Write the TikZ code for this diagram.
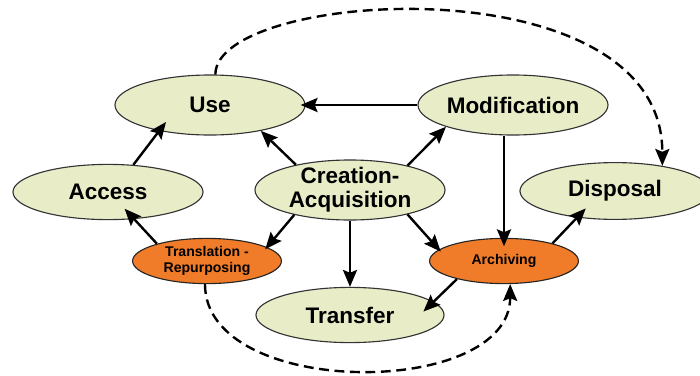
\documentclass[tikz,border=0pt]{standalone}
\usepackage{fontspec}
\setmainfont{Liberation Sans}
\usepackage{tikz}
\usetikzlibrary{shapes.geometric, arrows.meta, positioning}
\definecolor{stagegreen}{RGB}{232,237,200}
\definecolor{stageorange}{RGB}{240,123,40}

\begin{document}
\begin{tikzpicture}[
        x=0.025cm, y=-0.025cm,
        stage/.style={ellipse, draw=black!80, line width=0.8pt, fill=stagegreen, inner sep=0pt, minimum width=4.75cm, minimum height=1.5cm, align=center, font=\bfseries\fontsize{16}{17}\selectfont},
        substage/.style={ellipse, draw=black!85, line width=0.8pt, fill=stageorange, inner sep=0pt, minimum width=3.72cm, minimum height=1.13cm, align=center, font=\bfseries\fontsize{10}{11}\selectfont},
        flow/.style={-{Stealth[length=12pt, width=10pt, inset=2pt]}, line width=1.7pt},
        dashflow/.style={-{Stealth[length=12pt, width=10pt, inset=2pt]}, line width=1.7pt, dash pattern=on 7pt off 4pt}
    ]
        \useasboundingbox (0,0) rectangle (700,376);

        \node[stage] (use) at (210,105) {Use};
        \node[stage] (modification) at (513,105) {Modification};
        \node[stage, minimum height=1.38cm] (access) at (108,192) {Access};
        \node[stage, inner ysep=-1pt] (creation) at (350,190) {Creation-\\Acquisition};
        \node[stage, minimum height=1.42cm] (disposal) at (615,191) {Disposal};
        \node[substage] (translation) at (207,261) {Translation -\\Repurposing};
        \node[substage] (archiving) at (504,261) {Archiving};
        \node[stage, minimum width=4.7cm, minimum height=1.38cm] (transfer) at (350,315) {Transfer};

        \draw[flow, shorten >=-3.5pt] (modification.west) -- (use.east);
        \draw[flow, shorten >=-8pt] (access.47) -- (use.-153);
        \draw[flow] (creation.155) -- (use.-27);
        \draw[flow] (creation.23) -- (modification.-162);
        \draw[flow, shorten >=-2pt] (creation.-156) -- (translation.13);
        \draw[flow, shorten >=-10pt] (translation.161) -- (access.-46);
        \draw[flow] (creation.south) -- (transfer.north);
        \draw[flow, shorten >=-2pt] (creation.-23) -- (archiving.170);
        \draw[flow, shorten >=-6pt] (archiving.north |- modification.south) -- (archiving.north);
        \draw[flow, shorten >=-10pt] (archiving.-159) -- (transfer.9);
        \draw[flow, shorten >=-9pt] (archiving.20) -- (disposal.-145);

        \draw[dashflow] (use.80) .. controls +(0,-85) and +(0,-205) .. (disposal.28);
        \draw[dashflow] (translation.-95) .. controls +(0,115) and +(0,115) .. (archiving.-75);
    \end{tikzpicture}
\end{document}
